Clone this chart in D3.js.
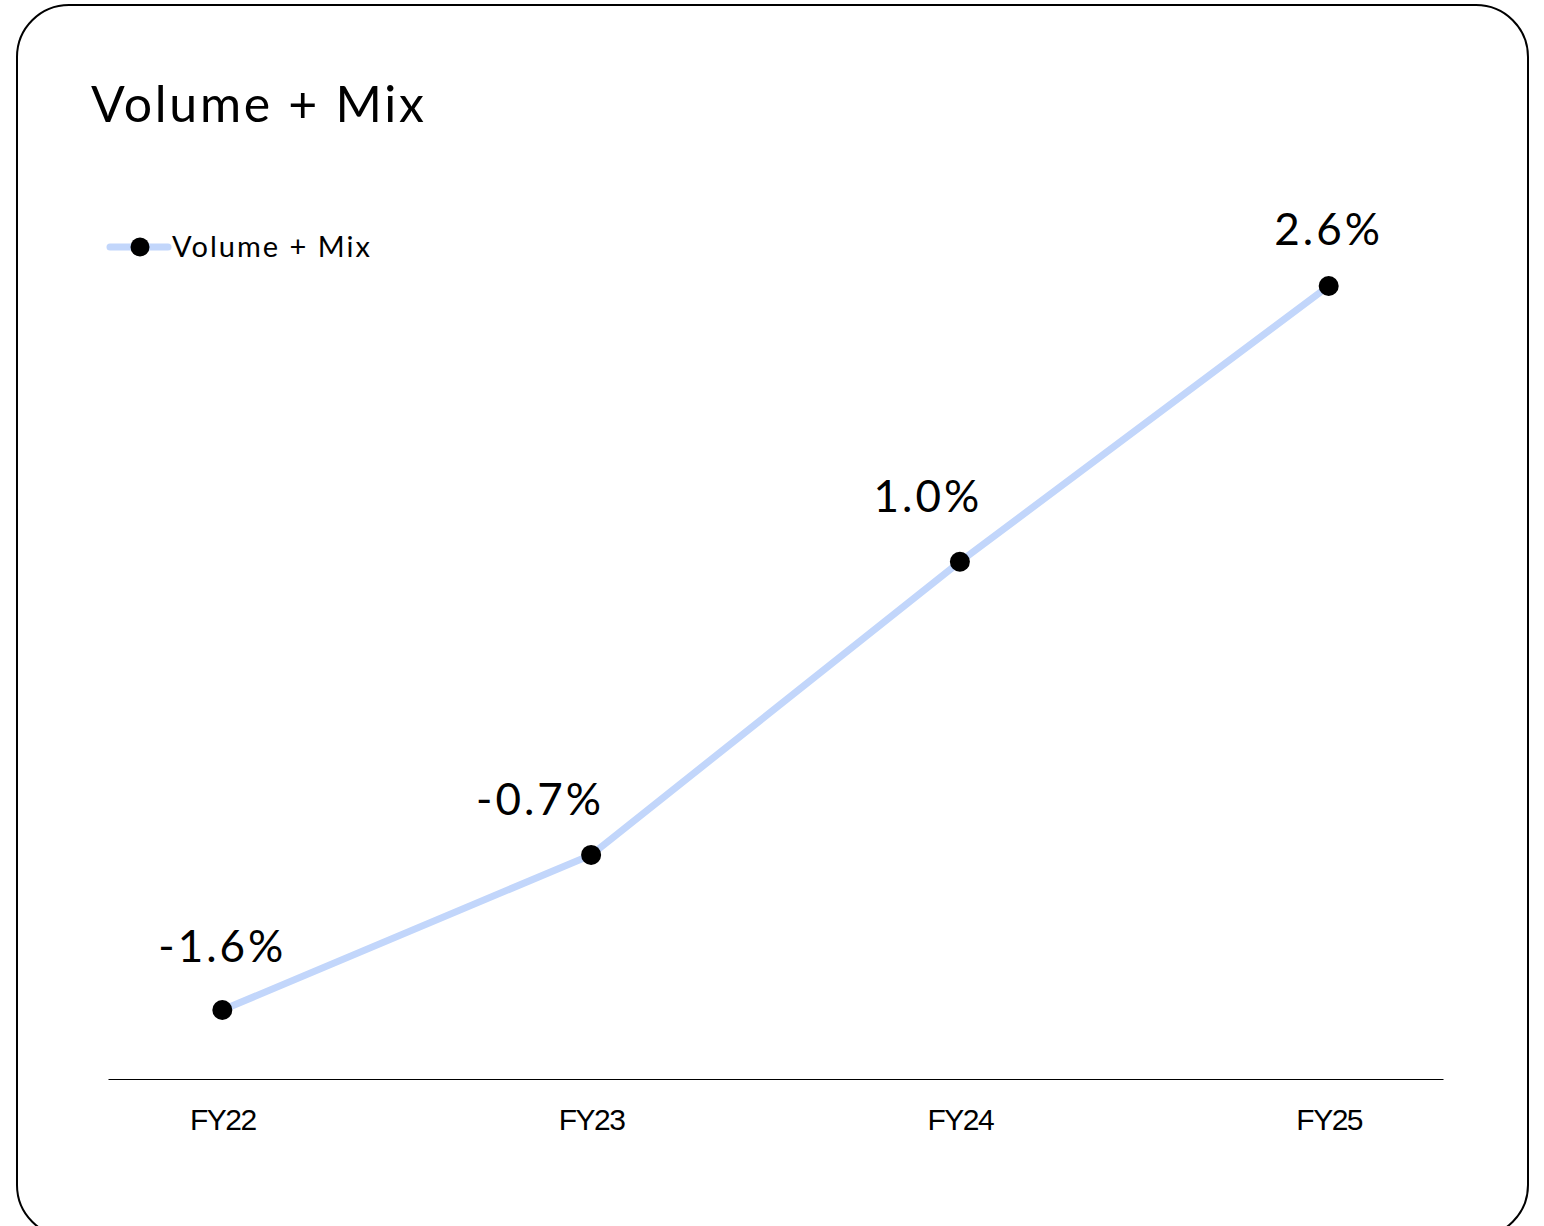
<!DOCTYPE html>
<html>
<head>
<meta charset="utf-8">
<script src="https://cdn.jsdelivr.net/npm/d3@7"></script>
<style>
  html, body { margin: 0; padding: 0; background: #fff; }
  svg { display: block; }
</style>
</head>
<body>
<svg id="chart" width="1544" height="1226"></svg>
<script>
const categories = ['FY22', 'FY23', 'FY24', 'FY25']
const values = [-1.6, -0.7, 1.0, 2.6]
const seriesName = 'Volume + Mix'
const yDomain = [-2, 3]

// label nudges so the text sits clear of the line
const labelDx = [0, -51, -32, 0]
const labelDy = [-48, -40, -50, -41]

const svg = d3.select('#chart')
const displayFont = "Optima, 'Lato', 'Open Sans', sans-serif"

// card
svg.append('rect')
  .attr('x', 17).attr('y', 5)
  .attr('width', 1511).attr('height', 1232)
  .attr('rx', 52).attr('ry', 52)
  .attr('fill', '#fff')
  .attr('stroke', '#000')
  .attr('stroke-width', 2)

svg.append('text')
  .attr('x', 91).attr('y', 122)
  .attr('font-family', displayFont)
  .attr('font-size', 50)
  .attr('letter-spacing', 2.7)
  .attr('fill', '#000')
  .text('Volume + Mix')

const x = d3.scalePoint().domain(categories).range([108, 1443]).padding(0.31)
const y = d3.scaleLinear().domain(yDomain).range([1079, 217])

// x axis
const xAxis = svg.append('g')
  .attr('transform', `translate(0, ${y(yDomain[0])})`)
  .call(d3.axisBottom(x).tickSize(0).tickPadding(30))
xAxis.select('.domain').attr('stroke', '#000').attr('stroke-width', 1.2)
xAxis.selectAll('text')
  .attr('font-family', "'Liberation Sans', Arial, sans-serif")
  .attr('font-size', 30)
  .attr('letter-spacing', -1.5)
  .attr('fill', '#000')

const data = categories.map((c, i) => ({ c, v: values[i], dx: labelDx[i], dy: labelDy[i] }))
const lineColor = '#c2d6fb'

svg.append('path')
  .datum(data)
  .attr('fill', 'none')
  .attr('stroke', lineColor)
  .attr('stroke-width', 7)
  .attr('stroke-linecap', 'round')
  .attr('d', d3.line().x(d => x(d.c)).y(d => y(d.v)))

svg.selectAll('circle.pt')
  .data(data)
  .join('circle')
  .attr('class', 'pt')
  .attr('cx', d => x(d.c))
  .attr('cy', d => y(d.v))
  .attr('r', 10)
  .attr('fill', '#000')

svg.selectAll('text.lbl')
  .data(data)
  .join('text')
  .attr('class', 'lbl')
  .attr('x', d => x(d.c) + d.dx)
  .attr('y', d => y(d.v) + d.dy)
  .attr('text-anchor', 'middle')
  .attr('font-family', displayFont)
  .attr('font-size', 44)
  .attr('letter-spacing', 3)
  .attr('fill', '#000')
  .text(d => `${d.v.toFixed(1)}%`)

// legend
const legend = svg.append('g').attr('transform', 'translate(110, 247)')
legend.append('line')
  .attr('x1', 0).attr('x2', 58).attr('y1', 0).attr('y2', 0)
  .attr('stroke', lineColor).attr('stroke-width', 7).attr('stroke-linecap', 'round')
legend.append('circle').attr('cx', 30).attr('cy', 0).attr('r', 9.5).attr('fill', '#000')
legend.append('text')
  .attr('x', 62).attr('y', 10)
  .attr('font-family', displayFont)
  .attr('font-size', 29)
  .attr('letter-spacing', 2)
  .attr('fill', '#000')
  .text(seriesName)
</script>
</body>
</html>
